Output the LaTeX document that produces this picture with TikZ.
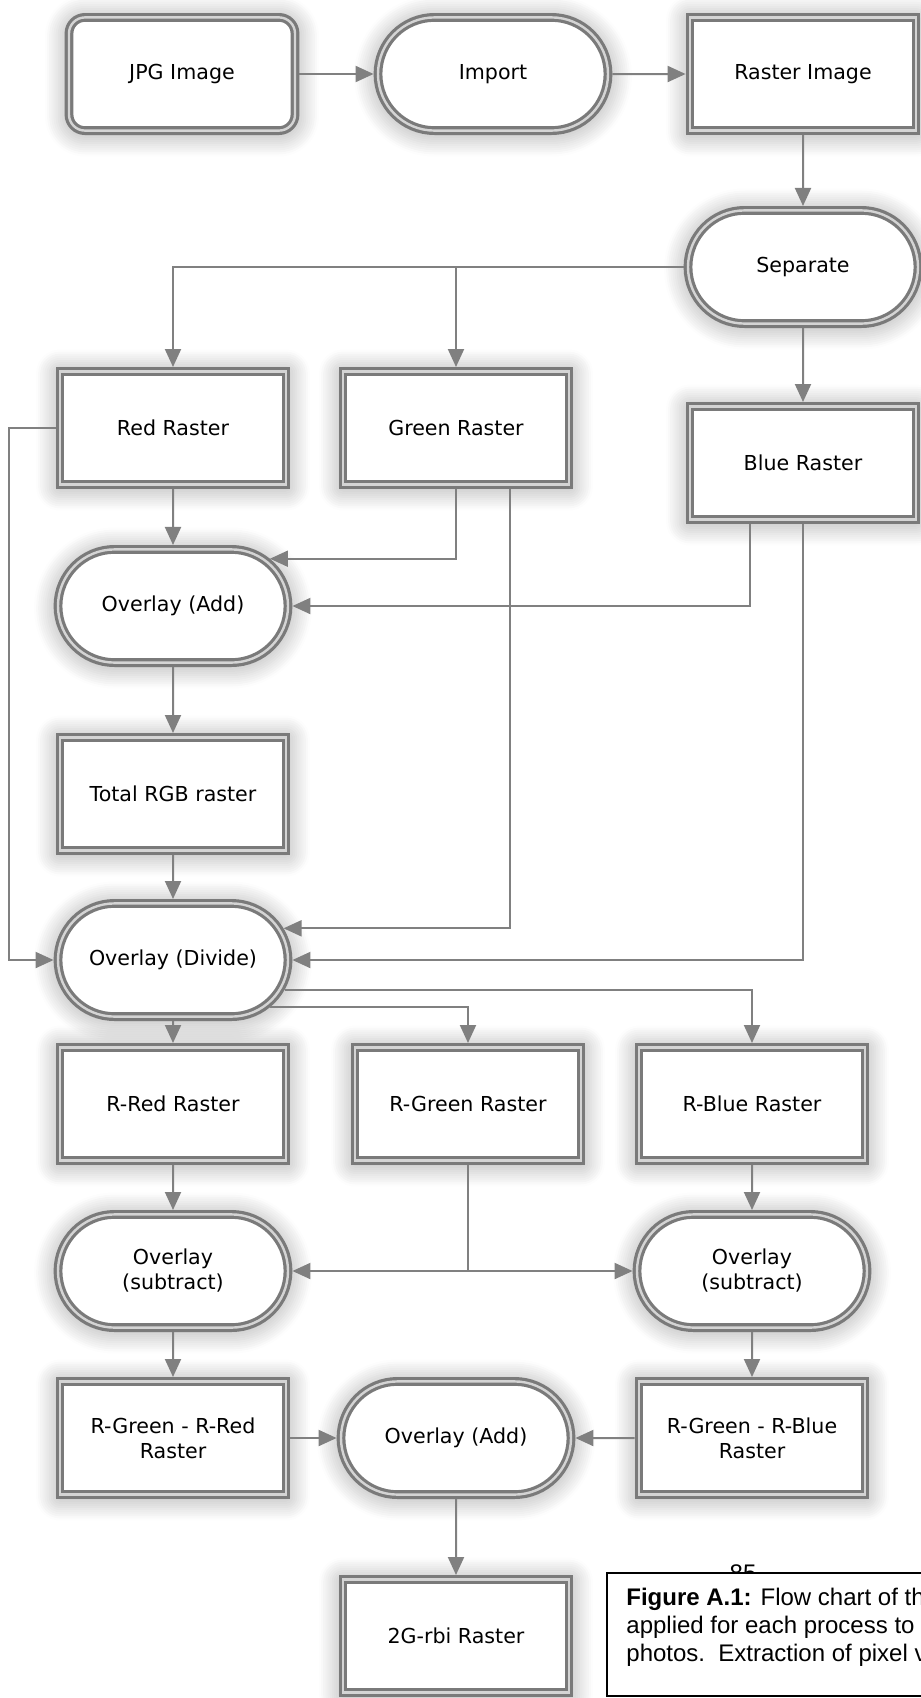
\documentclass[tikz,border=0pt]{standalone}
\usepackage{fontspec}
\setmainfont{DejaVu Sans}
\newfontfamily\capfont{Liberation Sans}
\usepackage{tikz}
\usetikzlibrary{arrows.meta,shapes.misc,shadows.blur}
\usepackage{xcolor}
\definecolor{edgegray}{RGB}{122,122,122}
\definecolor{gapgray}{RGB}{212,212,212}
\definecolor{arrowgray}{RGB}{128,128,128}

\begin{document}
\begin{tikzpicture}[x=0.5pt,y=-0.5pt,
    box/.style={rectangle,draw=edgegray,line width=1.6pt,double=gapgray,double distance=1.2pt,
        fill=white,minimum width=113pt,minimum height=56.6pt,inner sep=2pt,outer sep=2.2pt,
        align=center,font=\fontsize{10.3}{12.5}\selectfont,
        blur shadow={shadow xshift=0pt,shadow yshift=-1pt,shadow blur radius=12pt,shadow blur steps=12,shadow opacity=40}},
    proc/.style={box,rounded rectangle,minimum width=119pt},
    file/.style={box,rounded corners=8pt},
    flow/.style={draw=arrowgray,line width=1pt,-{Triangle[length=9pt,width=8pt]}}]
  \useasboundingbox (0,0) rectangle (921,1698);
  % top row
  \node[file] (jpg) at (182,74) {JPG Image};
  \node[proc] (import) at (493,74) {Import};
  \node[box] (rimg) at (803,74) {Raster Image};
  \node[proc] (sep) at (803,267) {Separate};
  % bands
  \node[box] (red) at (173,428) {Red Raster};
  \node[box] (green) at (456,428) {Green Raster};
  \node[box] (blue) at (803,463) {Blue Raster};
  \node[proc] (ovadd) at (173,606) {Overlay (Add)};
  \node[box] (total) at (173,794) {Total RGB raster};
  \node[proc] (ovdiv) at (173,960) {Overlay (Divide)};
  % ratios
  \node[box] (rred) at (173,1104) {R-Red Raster};
  \node[box] (rgreen) at (468,1104) {R-Green Raster};
  \node[box] (rblue) at (752,1104) {R-Blue Raster};
  \node[proc] (subl) at (173,1271) {Overlay\\(subtract)};
  \node[proc] (subr) at (752,1271) {Overlay\\(subtract)};
  \node[box] (gr) at (173,1438) {R-Green - R-Red\\Raster};
  \node[proc] (addb) at (456,1438) {Overlay (Add)};
  \node[box] (gb) at (752,1438) {R-Green - R-Blue\\Raster};
  \node[box] (rbi) at (456,1636) {2G-rbi Raster};

  \draw[flow] (jpg) -- (import);
  \draw[flow] (import) -- (rimg);
  \draw[flow] (rimg) -- (sep);
  \draw[flow] (sep.west) -| (red.north);
  \draw[flow] (sep.west) -| (green.north);
  \draw[flow] (sep) -- (blue);
  \draw[flow] (red) -- (ovadd);
  \draw[flow] (green.south) |- (ovadd.26);
  \draw[flow] ([xshift=-26.5pt]blue.south) |- (ovadd.east);
  \draw[flow] (ovadd) -- (total);
  \draw[flow] (total) -- (ovdiv);
  \draw[flow] ([xshift=27pt]green.south) |- (ovdiv.16);
  \draw[flow] (blue.south) |- (ovdiv.east);
  \draw[flow] (red.west) -- ++(-47,0) |- (ovdiv.west);
  \draw[flow] (ovdiv) -- (rred);
  \draw[flow] (ovdiv.-26) -| (rgreen.north);
  \draw[flow] (ovdiv.-15) -| (rblue.north);
  \draw[flow] (rred) -- (subl);
  \draw[flow] (rblue) -- (subr);
  \draw[flow] (rgreen.south) |- (subl.east);
  \draw[flow] (rgreen.south) |- (subr.west);
  \draw[flow] (subl) -- (gr);
  \draw[flow] (subr) -- (gb);
  \draw[flow] (gr) -- (addb);
  \draw[flow] (gb) -- (addb);
  \draw[flow] (addb) -- (rbi);

  % page number and caption box
  \node[font=\capfont\fontsize{12}{14}\selectfont,anchor=base] (pagenum) at (743,1581) {85};
  \draw[black,line width=1pt,fill=white] (607,1573) rectangle (940,1696);
  \node[font=\capfont\fontsize{12}{14}\selectfont,anchor=north west,align=left,inner sep=0pt] (caption) at (626,1588)
    {\textbf{Figure A.1:} Flow chart of th\\applied for each process to\\photos.\ \ Extraction of pixel v};
\end{tikzpicture}
\end{document}
